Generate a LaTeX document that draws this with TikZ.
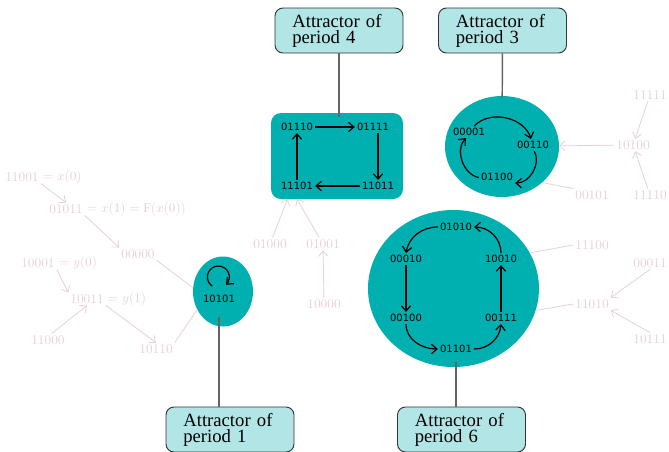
\documentclass[tikz,border=0pt]{standalone}
\usepackage{fontspec}
\setmainfont{Liberation Serif}
\newfontfamily\bitfont{DejaVu Sans}
\usepackage{tikz}
\usetikzlibrary{positioning, arrows.meta, shapes.geometric}
\definecolor{tealbasin}{RGB}{0,175,175}
\definecolor{tagfill}{RGB}{178,230,230}
\definecolor{fadepink}{RGB}{232,208,212}
\definecolor{stemgray}{RGB}{100,100,100}

\begin{document}
\begin{tikzpicture}[x=0.75pt, y=0.75pt,
    tag/.style={rectangle, draw=black!80, fill=tagfill, rounded corners=6pt, line width=0.7pt,
                text width=70pt, inner xsep=13pt, minimum height=33.75pt, align=left,
                font=\fontsize{14}{12}\selectfont},
    cyc/.style={fill=tealbasin, inner sep=0pt, outer sep=0pt},
    state/.style={font=\bitfont\fontsize{7.5}{9}\selectfont, inner sep=1.5pt},
    trans/.style={text=fadepink, inner sep=1.4pt, font=\fontsize{10}{12}\selectfont},
    move/.style={-{Straight Barb[length=4pt,width=7pt]}, line width=0.9pt},
    lead/.style={-{Straight Barb[length=4pt,width=7pt]}, fadepink, line width=0.6pt},
    feed/.style={fadepink, line width=0.6pt},
    stem/.style={stemgray, line width=1.1pt}
]
\useasboundingbox (0,0) rectangle (669,-451);

% Attractors
\node[cyc, ellipse, minimum width=45pt, minimum height=52.5pt] (att1) at (223,-291.5) {};
\node[cyc, rectangle, rounded corners=7.5pt, minimum width=99pt, minimum height=64.5pt] (att4) at (337,-156) {};
\node[cyc, ellipse, minimum width=85.5pt, minimum height=75.75pt] (att3) at (502,-146.5) {};
\node[cyc, ellipse, minimum width=128.25pt, minimum height=117.75pt] (att6) at (453.5,-288.5) {};

% Cycle states
\node[state] (n10101) at (219,-299) {10101};

\node[state] (n01110) at (297,-127) {01110};
\node[state] (n01111) at (373,-127) {01111};
\node[state] (n11101) at (297,-186) {11101};
\node[state] (n11011) at (378,-186) {11011};

\node[state] (n00001) at (469,-132) {00001};
\node[state] (n00110) at (533,-145) {00110};
\node[state] (n01100) at (497,-177) {01100};

\node[state] (n01010) at (456,-227) {01010};
\node[state] (n00010) at (406,-259) {00010};
\node[state] (n10010) at (501,-259) {10010};
\node[state] (n00100) at (406,-318) {00100};
\node[state] (n00111) at (501,-318) {00111};
\node[state] (n01101) at (456,-349) {01101};

% Cycle moves
\draw[move] ([shift={(-7,13)}]n10101.center) arc[start angle=235, end angle=-45, radius=11];

\draw[move] (n01110) -- (n01111);
\draw[move] (n11011 |- n01111.south) -- (n11011);
\draw[move] (n11011) -- (n11101);
\draw[move] (n11101) -- (n01110);

\draw[move] (n00001) to[bend left=60] (n00110);
\draw[move] (n00110) to[bend left=60] (n01100);
\draw[move] (n01100) to[bend left=60] (n00001);

\draw[move] (n01010.west) to[out=180, in=80] (n00010.north);
\draw[move] (n00010) -- (n00100);
\draw[move] (n00100.south) to[out=-90, in=180] (n01101.west);
\draw[move] (n01101.east) to[out=0, in=-95] (n00111.south);
\draw[move] (n00111) -- (n10010);
\draw[move] (n10010.north) to[out=90, in=0] (n01010.east);

% Transient states
\node[trans, label={[trans]right:$=x(0)$}] (t11001) at (22,-177) {$11001$};
\node[trans, label={[trans]right:$=x(1)=\mathrm{F}(x(0))$}] (t01011) at (66,-209) {$01011$};
\node[trans] (t00000) at (138,-254) {$00000$};
\node[trans, label={[trans]right:$=y(0)$}] (t10001) at (38,-263) {$10001$};
\node[trans, label={[trans]right:$=y(1)$}] (t10011) at (87,-299) {$10011$};
\node[trans] (t11000) at (48,-340) {$11000$};
\node[trans] (t10110) at (156,-349) {$10110$};

\node[trans] (t01000) at (270,-244) {$01000$};
\node[trans] (t01001) at (323,-244) {$01001$};
\node[trans] (t10000) at (324,-304) {$10000$};

\node[trans] (t10100) at (633,-145) {$10100$};
\node[trans] (t11111) at (650,-95) {$11111$};
\node[trans] (t11110) at (650,-195) {$11110$};
\node[trans] (t00101) at (592,-195) {$00101$};

\node[trans] (t11100) at (592,-245) {$11100$};
\node[trans] (t11010) at (592,-304) {$11010$};
\node[trans] (t00011) at (650,-263) {$00011$};
\node[trans] (t10111) at (650,-339) {$10111$};

% Transient moves
\draw[lead] (t11001.south east) -- (t01011.north);
\draw[lead] (t01011.south east) -- (t00000.north west);
\draw[feed] (t00000.south east) -- (att1.173);
\draw[lead] (t10001.south east) -- (t10011.north west);
\draw[lead] (t11000.60) -- (t10011.south);
\draw[lead] (t10011.south east) -- (t10110.north);
\draw[feed] (t10110.north east) -- (att1.215);

\draw[lead] (t01000) -- (att4.221);
\draw[lead] (t01001) -- (att4.227);
\draw[lead] (t10000) -- (t01001);

\draw[lead] (t10100) -- (att3);
\draw[lead] (t11111) -- (t10100);
\draw[lead] (t11110) -- (t10100);
\draw[feed] (t00101.north west) -- (att3.-42);

\draw[feed] (t11100.west) -- (att6.25);
\draw[feed] (t11010.west) -- (att6.-15);
\draw[lead] (t00011.south) -- (t11010.north east);
\draw[lead] (t10111.north) -- (t11010.south east);

% Tags
\node[tag] (tag4) at (339,-30.5) {Attractor of\\period 4};
\node[tag] (tag3) at (502.5,-30.5) {Attractor of\\period 3};
\node[tag] (tag1) at (230,-429.5) {Attractor of\\period 1};
\node[tag] (tag6) at (461.5,-429.5) {Attractor of\\period 6};

\draw[stem, shorten >=-3pt] (tag4) -- (tag4 |- att4.north);
\draw[stem, shorten >=-1.5pt] (tag3) -- (att3);
\draw[stem, shorten >=-7pt] (tag1.north -| n10101) -- (n10101 |- att1.south);
\draw[stem, shorten >=-3.5pt] (tag6.north -| n01101) -- (n01101 |- att6.south);
\end{tikzpicture}
\end{document}
